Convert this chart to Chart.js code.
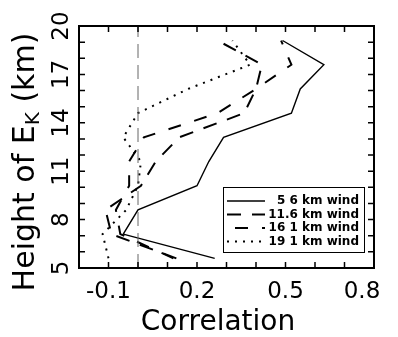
<!DOCTYPE html>
<html>
<head>
<meta charset="utf-8">
<script src="https://cdn.jsdelivr.net/npm/chart.js@4.4.1/dist/chart.umd.min.js"></script>
<style>
  html, body { margin: 0; padding: 0; background: #fff; }
</style>
</head>
<body>
<canvas id="graph" width="398" height="337"></canvas>
<script>
// Heights (km) and correlations
const heights = [5.6, 7.1, 8.6, 10.1, 11.6, 13.1, 14.6, 16.1, 17.6, 19.1];
const wind56 = [0.26, -0.05, 0.0, 0.2, 0.24, 0.29, 0.52, 0.55, 0.63, 0.49];
const wind116 = [0.13, -0.09, -0.11, 0.01, 0.06, 0.14, 0.36, 0.40, 0.42, 0.27];
const wind161 = [0.12, -0.06, -0.075, -0.03, -0.03, 0.02, 0.27, 0.40, 0.52, 0.485];
const wind191 = [-0.10, -0.12, -0.04, 0.0, 0.01, -0.05, 0.0, 0.17, 0.38, 0.32];
const seriesNames = ["5 6 km wind", "11.6 km wind", "16 1 km wind", "19 1 km wind"];

// zero reference line
const refX = [0, 0];
const refY = [5, 20];

// axes
const xTicks = [-0.1, 0.2, 0.5, 0.8];
const yTicks = [5, 8, 11, 14, 17, 20];
const xRange = [-0.2, 0.8];
const yRange = [5, 20];

const FONT = '"DejaVu Sans", sans-serif';

function lineSet(label, xs, dash, width) {
  return {
    label,
    data: heights.map((h, i) => ({ x: xs[i], y: h })),
    showLine: true,
    borderColor: "#000",
    borderWidth: width,
    borderDash: dash,
    pointRadius: 0,
    fill: false,
    tension: 0,
  };
}

const datasets = [
  {
    label: "zero",
    data: refX.map((v, i) => ({ x: v, y: refY[i] })),
    showLine: true,
    borderColor: "#666",
    borderWidth: 1,
    borderDash: [14, 7],
    pointRadius: 0,
  },
  lineSet(seriesNames[0], wind56, [], 1.4),
  lineSet(seriesNames[1], wind116, [14, 11], 2),
  lineSet(seriesNames[2], wind161, [13, 14], 2),
  lineSet(seriesNames[3], wind191, [2, 6], 2),
];

const decorations = {
  id: "decorations",
  afterDraw(chart) {
    const { ctx, chartArea: a, scales } = chart;
    const x = scales.x, y = scales.y;
    ctx.save();

    // frame
    ctx.strokeStyle = "#000";
    ctx.lineWidth = 2;
    ctx.setLineDash([]);
    ctx.strokeRect(a.left, a.top, a.right - a.left, a.bottom - a.top);

    // inward ticks on all sides
    ctx.lineWidth = 1.5;
    ctx.beginPath();
    for (let i = -2; i <= 8; i++) {
      const px = x.getPixelForValue(i / 10);
      ctx.moveTo(px, a.bottom); ctx.lineTo(px, a.bottom - 6);
      ctx.moveTo(px, a.top); ctx.lineTo(px, a.top + 6);
    }
    for (let v = yRange[0]; v <= yRange[1]; v++) {
      const py = y.getPixelForValue(v);
      ctx.moveTo(a.left, py); ctx.lineTo(a.left + 6, py);
      ctx.moveTo(a.right, py); ctx.lineTo(a.right - 6, py);
    }
    ctx.stroke();

    ctx.fillStyle = "#000";
    // x tick labels (last one pulled in to stay on the page)
    ctx.font = "23px " + FONT;
    ctx.textAlign = "center";
    ctx.textBaseline = "top";
    xTicks.forEach((v, i) => {
      const shift = i === xTicks.length - 1 ? -12 : 0;
      ctx.fillText(v.toFixed(1), x.getPixelForValue(v) + shift, a.bottom + 13);
    });

    // y tick labels, rotated
    ctx.textBaseline = "middle";
    yTicks.forEach(v => {
      ctx.save();
      ctx.translate(a.left - 17, y.getPixelForValue(v));
      ctx.rotate(-Math.PI / 2);
      ctx.fillText(String(v), 0, 0);
      ctx.restore();
    });

    // x title
    ctx.font = "28px " + FONT;
    ctx.textBaseline = "alphabetic";
    ctx.fillText("Correlation", 218, 330);

    // y title with subscript
    ctx.save();
    ctx.translate(34, 162);
    ctx.rotate(-Math.PI / 2);
    const big = "30px " + FONT, small = "20px " + FONT;
    const p1 = "Height of E", p2 = "K", p3 = " (km)";
    ctx.font = big; const w1 = ctx.measureText(p1).width, w3 = ctx.measureText(p3).width;
    ctx.font = small; const w2 = ctx.measureText(p2).width;
    let sx = -(w1 + w2 + w3) / 2;
    ctx.textAlign = "left";
    ctx.font = big; ctx.fillText(p1, sx, 0); sx += w1;
    ctx.font = small; ctx.fillText(p2, sx, 5); sx += w2;
    ctx.font = big; ctx.fillText(p3, sx, 0);
    ctx.restore();

    // legend box
    const bx = 223, by = 187, bw = 141, bh = 65;
    ctx.fillStyle = "#fff";
    ctx.fillRect(bx, by, bw, bh);
    ctx.strokeStyle = "#000";
    ctx.lineWidth = 1;
    ctx.strokeRect(bx + 0.5, by + 0.5, bw, bh);
    ctx.fillStyle = "#000";
    ctx.font = "bold 12px " + FONT;
    ctx.textAlign = "right";
    ctx.textBaseline = "middle";
    const rows = chart.data.datasets.slice(1);
    rows.forEach((ds, i) => {
      const ry = by + 14 + i * 13.5;
      ctx.lineWidth = ds.borderWidth;
      ctx.setLineDash(ds.borderDash);
      ctx.lineDashOffset = i === 2 ? 19 : 0;
      ctx.beginPath();
      ctx.moveTo(bx + 4, ry);
      ctx.lineTo(bx + 42, ry);
      ctx.stroke();
      ctx.setLineDash([]);
      ctx.lineDashOffset = 0;
      ctx.fillText(ds.label, bx + bw - 5, ry);
    });

    ctx.restore();
  },
};

new Chart(document.getElementById("graph"), {
  type: "scatter",
  data: { datasets },
  options: {
    responsive: false,
    animation: false,
    devicePixelRatio: 1,
    layout: { padding: { top: 26, right: 24, left: 0, bottom: 0 } },
    scales: {
      x: {
        type: "linear",
        min: xRange[0],
        max: xRange[1],
        ticks: { display: false },
        grid: { display: false },
        border: { display: false },
        afterFit: s => { s.height = 69; },
      },
      y: {
        type: "linear",
        min: yRange[0],
        max: yRange[1],
        ticks: { display: false },
        grid: { display: false },
        border: { display: false },
        afterFit: s => { s.width = 79; },
      },
    },
    plugins: { legend: { display: false }, tooltip: { enabled: false } },
  },
  plugins: [decorations],
});
</script>
</body>
</html>
